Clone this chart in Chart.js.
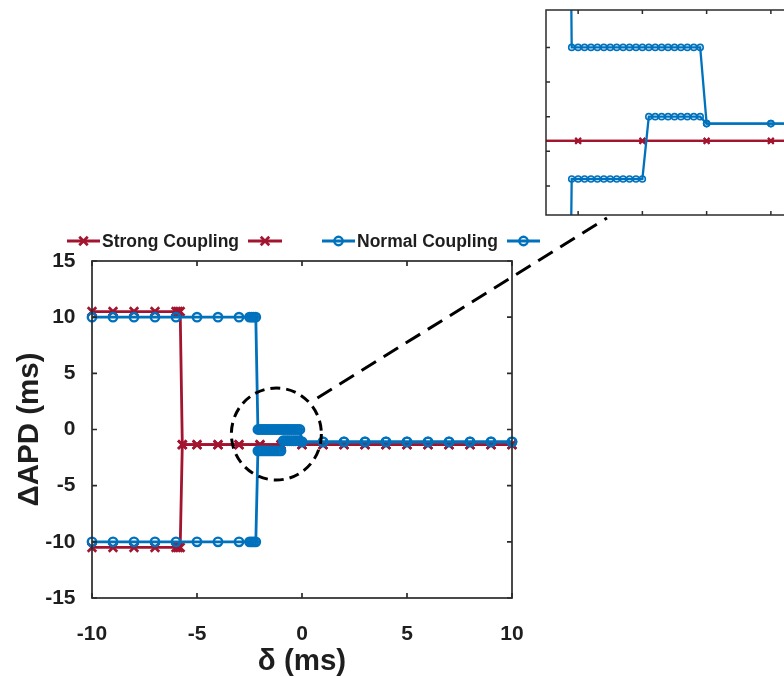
<!DOCTYPE html>
<html>
<head>
<meta charset="utf-8">
<script src="https://cdn.jsdelivr.net/npm/chart.js@4.4.1/dist/chart.umd.min.js"></script>
<style>
html,body{margin:0;padding:0;background:#fff;overflow:hidden}
#wrap{position:relative;width:784px;height:677px;overflow:hidden}
#main-chart{position:absolute;left:0;top:0}
#inset-chart{position:absolute;left:540px;top:0}
</style>
</head>
<body>
<div id="wrap">
<canvas id="main-chart" width="784" height="677"></canvas>
<canvas id="inset-chart" width="270" height="225"></canvas>
</div>
<script>
/* Delta APD vs delta, strong vs normal coupling, with zoomed inset */

var RED='#A2142F', BLUE='#0072BD', INK='#1e1e1e';

var seriesLabels=['Strong Coupling','','Normal Coupling',''];

// strong coupling (two branches, merge after the jump)
var strongX=[-10,-9,-8,-7,-6,-5.9,-5.8,-5.7,-5,-4,-3,-2,-1,0,1,2,3,4,5,6,7,8,9,10];
var strongUpperY=[10.5,10.5,10.5,10.5,10.5,10.5,10.5,-1.35,-1.35,-1.35,-1.35,-1.35,-1.35,-1.35,-1.35,-1.35,-1.35,-1.35,-1.35,-1.35,-1.35,-1.35,-1.35,-1.35];
var strongLowerY=[-10.5,-10.5,-10.5,-10.5,-10.5,-10.5,-10.5,-1.35,-1.35,-1.35,-1.35,-1.35,-1.35,-1.35,-1.35,-1.35,-1.35,-1.35,-1.35,-1.35,-1.35,-1.35,-1.35,-1.35];

// normal coupling
var normalX=[-10,-9,-8,-7,-6,-5,-4,-3,-2.5,-2.4,-2.3,-2.2,
  -2.1,-2.0,-1.9,-1.8,-1.7,-1.6,-1.5,-1.4,-1.3,-1.2,-1.1,-1.0,
  -0.9,-0.8,-0.7,-0.6,-0.5,-0.4,-0.3,-0.2,-0.1,
  0,1,2,3,4,5,6,7,8,9,10];
var normalUpperY=[10,10,10,10,10,10,10,10,10,10,10,10,
  0,0,0,0,0,0,0,0,0,0,0,0,
  0,0,0,0,0,0,0,0,0,
  -1.1,-1.1,-1.1,-1.1,-1.1,-1.1,-1.1,-1.1,-1.1,-1.1,-1.1];
var normalLowerY=[-10,-10,-10,-10,-10,-10,-10,-10,-10,-10,-10,-10,
  -1.9,-1.9,-1.9,-1.9,-1.9,-1.9,-1.9,-1.9,-1.9,-1.9,-1.9,-1.9,
  -1.0,-1.0,-1.0,-1.0,-1.0,-1.0,-1.0,-1.0,-1.0,
  -1.1,-1.1,-1.1,-1.1,-1.1,-1.1,-1.1,-1.1,-1.1,-1.1,-1.1];

var mainXTicks=[-10,-5,0,5,10];
var mainYTicks=[-15,-10,-5,0,5,10,15];
var insetXTicks=[-2,-1,0,1];
var insetYTicks=[0,-0.5,-1,-1.5,-2];
var zoomCenter=[-1.22,-0.4];

function pts(xs,ys){return xs.map(function(x,i){return{x:x,y:ys[i]}})}

function makeSets(big){
  var lw=big?2.8:2.3;
  function blue(lbl,ys){return{label:lbl,data:pts(normalX,ys),borderColor:BLUE,borderWidth:lw,
    pointStyle:'circle',pointRadius:big?4.2:3,pointBorderWidth:big?2.4:1.6,pointBorderColor:BLUE,
    pointBackgroundColor:'rgba(0,0,0,0)',tension:0,clip:big?false:0}}
  function red(lbl,ys){return{label:lbl,data:pts(strongX,ys),borderColor:RED,borderWidth:lw,
    pointStyle:'crossRot',pointRadius:big?6:4,pointBorderWidth:big?2.7:2,pointBorderColor:RED,
    pointBackgroundColor:RED,tension:0,clip:big?false:0}}
  // first dataset is drawn on top in Chart.js, so blue goes first
  return [blue(seriesLabels[2],normalUpperY),blue(seriesLabels[3],normalLowerY),
          red(seriesLabels[0],strongUpperY),red(seriesLabels[1],strongLowerY)];
}

var framePlugin={
  id:'frame',
  afterDatasetsDraw:function(chart,args,o){
    var a=chart.chartArea,ctx=chart.ctx,xs=chart.scales.x,ys=chart.scales.y;
    ctx.save();
    ctx.strokeStyle='#2b2b2b';ctx.lineWidth=o.lw;
    ctx.strokeRect(a.left,a.top,a.right-a.left,a.bottom-a.top);
    ctx.beginPath();
    o.xt.forEach(function(v){
      var p=xs.getPixelForValue(v);
      ctx.moveTo(p,a.bottom);ctx.lineTo(p,a.bottom-o.len);
      ctx.moveTo(p,a.top);ctx.lineTo(p,a.top+o.len);
    });
    o.yt.forEach(function(v){
      var p=ys.getPixelForValue(v);
      ctx.moveTo(a.left,p);ctx.lineTo(a.left+o.len,p);
      ctx.moveTo(a.right,p);ctx.lineTo(a.right-o.len,p);
    });
    ctx.stroke();ctx.restore();
  }
};

var whiteBg={
  id:'whiteBg',
  beforeDraw:function(chart){
    var a=chart.chartArea,ctx=chart.ctx;
    ctx.save();ctx.fillStyle='#fff';ctx.fillRect(a.left,a.top,a.right-a.left,a.bottom-a.top);ctx.restore();
  }
};

function marker(ctx,style,x,y,r,color,bw){
  ctx.save();ctx.strokeStyle=color;ctx.lineWidth=bw;ctx.beginPath();
  if(style==='circle'){ctx.arc(x,y,r,0,Math.PI*2)}
  else{var d=r*0.7071;ctx.moveTo(x-d,y-d);ctx.lineTo(x+d,y+d);ctx.moveTo(x+d,y-d);ctx.lineTo(x-d,y+d)}
  ctx.stroke();ctx.restore();
}

var legendPlugin={
  id:'sampleLegend',
  afterDraw:function(chart){
    var ctx=chart.ctx,y=241;
    var items=[
      {x0:67,x1:100,ds:2},{x0:248,x1:282,ds:3},
      {x0:322,x1:355,ds:0},{x0:507,x1:540,ds:1}
    ];
    ctx.save();
    ctx.font='bold 17.5px "Liberation Sans", Arial, sans-serif';
    ctx.textBaseline='middle';ctx.fillStyle=INK;
    items.forEach(function(it){
      var d=chart.data.datasets[it.ds];
      ctx.strokeStyle=d.borderColor;ctx.lineWidth=2.8;
      ctx.beginPath();ctx.moveTo(it.x0,y);ctx.lineTo(it.x1,y);ctx.stroke();
      marker(ctx,d.pointStyle,(it.x0+it.x1)/2,y,d.pointRadius,d.borderColor,d.pointBorderWidth);
      if(d.label)ctx.fillText(d.label,it.x1+2,y+1);
    });
    ctx.restore();
  }
};

var zoomMarkPlugin={
  id:'zoomMark',
  afterDraw:function(chart){
    var ctx=chart.ctx,xs=chart.scales.x,ys=chart.scales.y;
    var cx=xs.getPixelForValue(zoomCenter[0]),cy=ys.getPixelForValue(zoomCenter[1]);
    ctx.save();
    ctx.strokeStyle='#000';ctx.lineWidth=3;
    ctx.setLineDash([10,6]);
    ctx.beginPath();ctx.ellipse(cx,cy,45,46,0,0,Math.PI*2);ctx.stroke();
    ctx.setLineDash([17,9]);
    ctx.beginPath();ctx.moveTo(cx+41,cy-36);ctx.lineTo(607,218);ctx.stroke();
    ctx.restore();
  }
};

var tickFont={family:'"Liberation Sans", Arial, sans-serif',size:21,weight:'bold'};
var titleFont={family:'"Liberation Sans", Arial, sans-serif',size:29.5,weight:'bold',lineHeight:1};

new Chart(document.getElementById('main-chart'),{
  type:'line',
  data:{datasets:makeSets(true)},
  options:{
    responsive:false,animation:false,devicePixelRatio:1,
    layout:{padding:{top:261,right:272,left:0,bottom:0}},
    plugins:{legend:{display:false},tooltip:{enabled:false},
      frame:{lw:1.7,len:5,xt:mainXTicks,yt:mainYTicks}},
    scales:{
      x:{type:'linear',min:-10,max:10,
        afterBuildTicks:function(s){s.ticks=mainXTicks.map(function(v){return{value:v}})},
        ticks:{color:INK,font:tickFont,padding:16,maxRotation:0},
        grid:{display:false},border:{display:false},
        title:{display:true,text:'δ (ms)',color:INK,font:titleFont,padding:{top:0,bottom:0}},
        afterFit:function(s){s.height=79}},
      y:{type:'linear',min:-15,max:15,
        afterBuildTicks:function(s){s.ticks=mainYTicks.map(function(v){return{value:v}})},
        ticks:{color:INK,font:tickFont,padding:8.5},
        grid:{display:false},border:{display:false},
        title:{display:true,text:'ΔAPD (ms)',color:INK,font:titleFont,padding:{top:15,bottom:0}},
        afterFit:function(s){s.width=92}}
    }
  },
  plugins:[framePlugin,zoomMarkPlugin,legendPlugin]
});

new Chart(document.getElementById('inset-chart'),{
  type:'line',
  data:{datasets:makeSets(false)},
  options:{
    responsive:false,animation:false,devicePixelRatio:1,
    layout:{padding:{top:10,right:7,left:5,bottom:10}},
    plugins:{legend:{display:false},tooltip:{enabled:false},
      frame:{lw:1.5,len:4,xt:insetXTicks,yt:insetYTicks}},
    scales:{
      x:{type:'linear',min:-2.5,max:1.5,display:false},
      y:{type:'linear',min:-2.42,max:0.54,display:false}
    }
  },
  plugins:[whiteBg,framePlugin]
});
</script>
</body>
</html>
